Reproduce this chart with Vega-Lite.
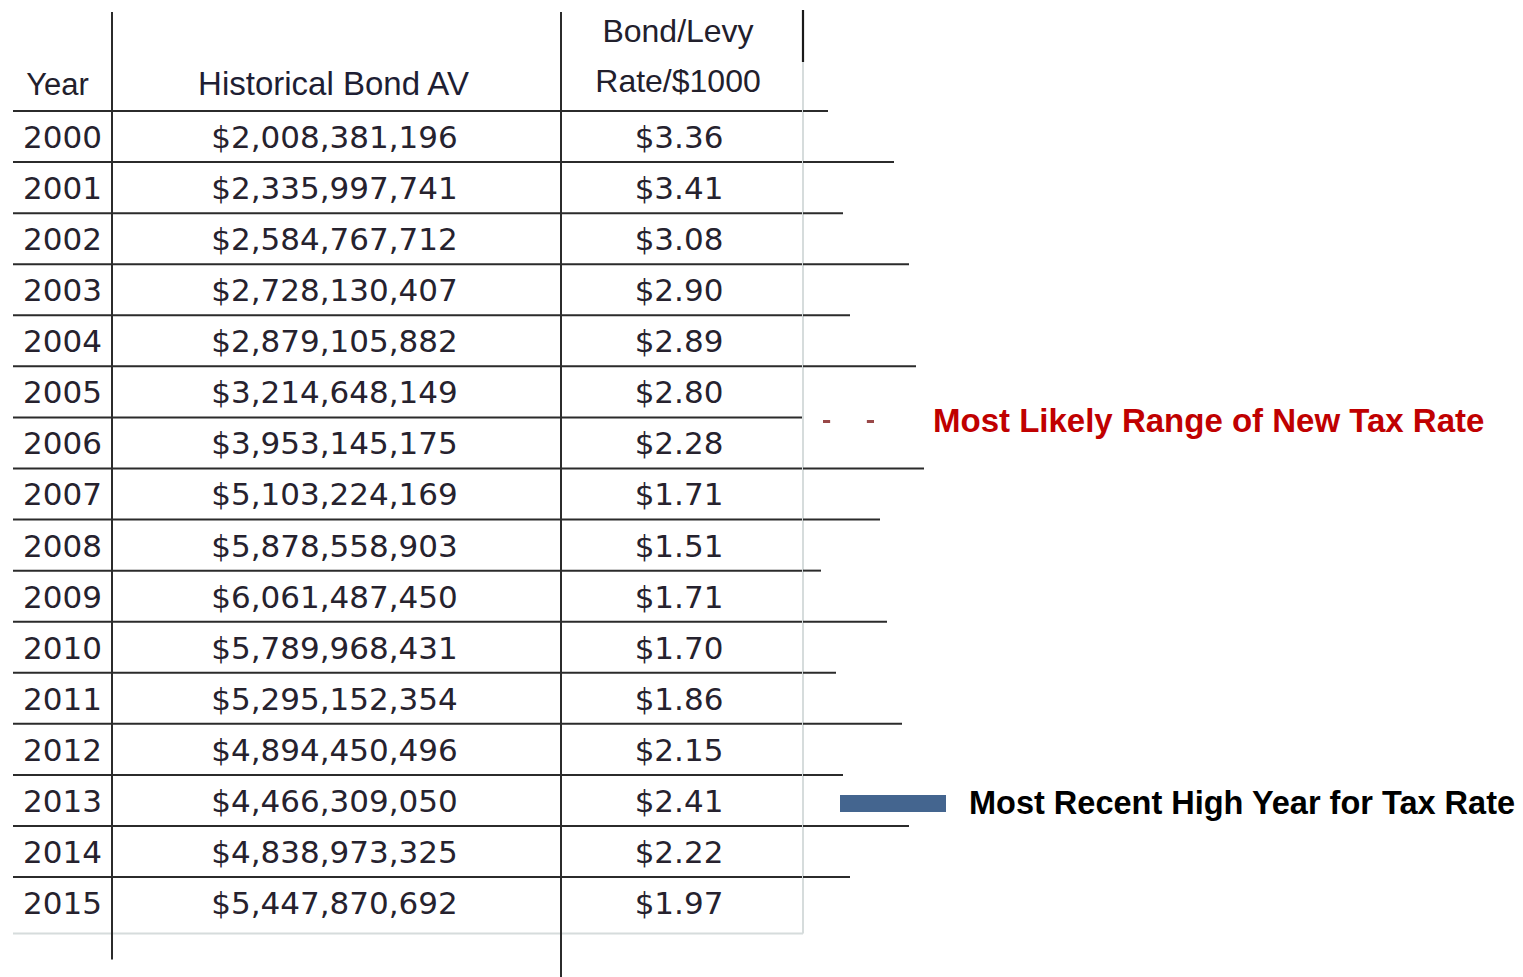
{
  "$schema": "https://vega.github.io/schema/vega-lite/v6.json",
  "padding": {"left": 12, "top": 0, "right": 0, "bottom": 0},
  "spacing": 0,
  "bounds": "flush",
  "config": {"view": {"stroke": null}, "concat": {"spacing": 0}},
  "datasets": {
    "table": [
      {"year": 2000, "av": 2008381196, "rate": 3.36},
      {"year": 2001, "av": 2335997741, "rate": 3.41},
      {"year": 2002, "av": 2584767712, "rate": 3.08},
      {"year": 2003, "av": 2728130407, "rate": 2.90},
      {"year": 2004, "av": 2879105882, "rate": 2.89},
      {"year": 2005, "av": 3214648149, "rate": 2.80},
      {"year": 2006, "av": 3953145175, "rate": 2.28},
      {"year": 2007, "av": 5103224169, "rate": 1.71},
      {"year": 2008, "av": 5878558903, "rate": 1.51},
      {"year": 2009, "av": 6061487450, "rate": 1.71},
      {"year": 2010, "av": 5789968431, "rate": 1.70},
      {"year": 2011, "av": 5295152354, "rate": 1.86},
      {"year": 2012, "av": 4894450496, "rate": 2.15},
      {"year": 2013, "av": 4466309050, "rate": 2.41},
      {"year": 2014, "av": 4838973325, "rate": 2.22},
      {"year": 2015, "av": 5447870692, "rate": 1.97}
    ],
    "columns": [
      {"col": "year", "title": "Year"},
      {"col": "av", "title": "Historical Bond AV"},
      {"col": "rate", "title": ["Bond/Levy", "Rate/$1000"]}
    ],
    "tails": [
      {"year": 2000, "tail": 25},
      {"year": 2001, "tail": 91},
      {"year": 2002, "tail": 40},
      {"year": 2003, "tail": 106},
      {"year": 2004, "tail": 47},
      {"year": 2005, "tail": 113},
      {"year": 2007, "tail": 121},
      {"year": 2008, "tail": 77},
      {"year": 2009, "tail": 18},
      {"year": 2010, "tail": 84},
      {"year": 2011, "tail": 33},
      {"year": 2012, "tail": 99},
      {"year": 2013, "tail": 40},
      {"year": 2014, "tail": 106},
      {"year": 2015, "tail": 47}
    ],
    "legendRange": [{"item": "Most Likely Range of New Tax Rate"}],
    "legendHigh": [{"item": "Most Recent High Year for Tax Rate"}]
  },
  "hconcat": [
    {
      "width": 99,
      "height": 977,
      "layer": [
        {
          "data": {"name": "table"},
          "mark": {"type": "rule", "color": "#2b2b2b", "strokeWidth": 2, "yOffset": -25.5},
          "encoding": {"y": {"field": "year", "type": "quantitative", "axis": null, "scale": {"domain": [1997.327, 2016.458], "reverse": true, "nice": false, "zero": false}}}
        },
        {
          "data": {"name": "table"},
          "transform": [{"filter": "datum.year === 2015"}],
          "mark": {"type": "rule", "color": "#d6dcdc", "strokeWidth": 2, "yOffset": 31},
          "encoding": {"y": {"field": "year", "type": "quantitative"}}
        },
        {
          "data": {"name": "table"},
          "mark": {"type": "text", "font": "DejaVu Sans", "fontSize": 31, "baseline": "alphabetic", "dy": 11.5, "color": "#26222e"},
          "encoding": {
            "y": {"field": "year", "type": "quantitative"},
            "text": {"field": "year", "type": "nominal"}
          }
        },
        {
          "data": {"name": "columns"},
          "transform": [{"filter": "datum.col === 'year'"}],
          "mark": {"type": "text", "font": "Liberation Sans", "fontSize": 31, "baseline": "alphabetic", "dy": 9.5, "dx": -5, "color": "#22202c"},
          "encoding": {
            "y": {"datum": 1999, "type": "quantitative"},
            "text": {"field": "title", "type": "nominal"}
          }
        }
      ]
    },
    {
      "width": 449,
      "height": 977,
      "layer": [
        {
          "data": {"name": "table"},
          "mark": {"type": "rule", "color": "#2b2b2b", "strokeWidth": 2, "yOffset": -25.5},
          "encoding": {"y": {"field": "year", "type": "quantitative", "axis": null, "scale": {"domain": [1997.327, 2016.458], "reverse": true, "nice": false, "zero": false}}}
        },
        {
          "data": {"name": "table"},
          "transform": [{"filter": "datum.year === 2015"}],
          "mark": {"type": "rule", "color": "#d6dcdc", "strokeWidth": 2, "yOffset": 31},
          "encoding": {"y": {"field": "year", "type": "quantitative"}}
        },
        {
          "data": {"name": "table"},
          "transform": [{"aggregate": [{"op": "min", "field": "year", "as": "first"}, {"op": "max", "field": "year", "as": "last"}]}],
          "mark": {"type": "rule", "color": "#2b2b2b", "strokeWidth": 2, "yOffset": -124.5, "y2Offset": 57},
          "encoding": {
            "x": {"value": 0},
            "y": {"field": "first", "type": "quantitative"},
            "y2": {"field": "last"}
          }
        },
        {
          "data": {"name": "table"},
          "mark": {"type": "text", "font": "DejaVu Sans", "fontSize": 31, "baseline": "alphabetic", "dy": 11.5, "dx": -2, "color": "#26222e"},
          "encoding": {
            "y": {"field": "year", "type": "quantitative"},
            "text": {"field": "av", "type": "quantitative", "format": "$,.0f"}
          }
        },
        {
          "data": {"name": "columns"},
          "transform": [{"filter": "datum.col === 'av'"}],
          "mark": {"type": "text", "font": "Liberation Sans", "fontSize": 33, "baseline": "alphabetic", "dy": 9.5, "dx": -3, "color": "#1e1e34"},
          "encoding": {
            "y": {"datum": 1999, "type": "quantitative"},
            "text": {"field": "title", "type": "nominal"}
          }
        }
      ]
    },
    {
      "width": 242,
      "height": 977,
      "layer": [
        {
          "data": {"name": "table"},
          "mark": {"type": "rule", "color": "#2b2b2b", "strokeWidth": 2, "yOffset": -25.5},
          "encoding": {"y": {"field": "year", "type": "quantitative", "axis": null, "scale": {"domain": [1997.327, 2016.458], "reverse": true, "nice": false, "zero": false}}}
        },
        {
          "data": {"name": "table"},
          "transform": [{"filter": "datum.year === 2015"}],
          "mark": {"type": "rule", "color": "#d6dcdc", "strokeWidth": 2, "yOffset": 31},
          "encoding": {"y": {"field": "year", "type": "quantitative"}}
        },
        {
          "data": {"name": "table"},
          "transform": [{"aggregate": [{"op": "min", "field": "year", "as": "first"}, {"op": "max", "field": "year", "as": "last"}]}],
          "mark": {"type": "rule", "color": "#2b2b2b", "strokeWidth": 2, "yOffset": -124.5, "y2Offset": 75},
          "encoding": {
            "x": {"value": 0},
            "y": {"field": "first", "type": "quantitative"},
            "y2": {"field": "last"}
          }
        },
        {
          "data": {"name": "table"},
          "transform": [{"aggregate": [{"op": "min", "field": "year", "as": "first"}, {"op": "max", "field": "year", "as": "last"}]}],
          "mark": {"type": "rule", "color": "#d6dcdc", "strokeWidth": 2, "yOffset": -74.5, "y2Offset": 31},
          "encoding": {
            "x": {"value": "width"},
            "y": {"field": "first", "type": "quantitative"},
            "y2": {"field": "last"}
          }
        },
        {
          "data": {"name": "table"},
          "transform": [{"aggregate": [{"op": "min", "field": "year", "as": "first"}]}],
          "mark": {"type": "rule", "color": "#1a1a1a", "strokeWidth": 2.2, "yOffset": -126.5, "y2Offset": -74.5},
          "encoding": {
            "x": {"value": "width"},
            "y": {"field": "first", "type": "quantitative"},
            "y2": {"field": "first"}
          }
        },
        {
          "data": {"name": "table"},
          "mark": {"type": "text", "font": "DejaVu Sans", "fontSize": 31, "baseline": "alphabetic", "dy": 11.5, "dx": -3, "color": "#26222e"},
          "encoding": {
            "y": {"field": "year", "type": "quantitative"},
            "text": {"field": "rate", "type": "quantitative", "format": "$.2f"}
          }
        },
        {
          "data": {"name": "columns"},
          "transform": [{"filter": "datum.col === 'rate'"}],
          "mark": {"type": "text", "font": "Liberation Sans", "fontSize": 32, "baseline": "alphabetic", "dy": -43.5, "dx": -4, "lineHeight": 50, "color": "#22202c"},
          "encoding": {
            "y": {"datum": 1999, "type": "quantitative"},
            "text": {"field": "title", "type": "nominal"}
          }
        }
      ]
    },
    {
      "width": 721,
      "height": 977,
      "resolve": {"scale": {"color": "independent"}, "legend": {"color": "independent"}},
      "layer": [
        {
          "data": {"name": "tails"},
          "mark": {"type": "rule", "color": "#2b2b2b", "strokeWidth": 2, "yOffset": -25.5},
          "encoding": {
            "x": {"field": "tail", "type": "quantitative", "axis": null, "scale": {"domain": [0, 721], "nice": false, "zero": true}},
            "x2": {"value": 0},
            "y": {"field": "year", "type": "quantitative", "axis": null, "scale": {"domain": [1997.327, 2016.458], "reverse": true, "nice": false, "zero": false}}
          }
        },
        {
          "data": {"name": "legendRange"},
          "mark": {"type": "text", "text": ""},
          "encoding": {
            "color": {
              "field": "item",
              "type": "nominal",
              "scale": {"range": ["#994848"]},
              "legend": {
                "orient": "none",
                "legendX": 20,
                "legendY": 396,
                "title": null,
                "padding": 0,
                "symbolType": "M-1,-0.06H-0.72V0.06H-1ZM0.72,-0.06H1V0.06H0.72Z",
                "symbolSize": 2601,
                "symbolStrokeWidth": 0,
                "symbolOpacity": 1,
                "labelFont": "Liberation Sans",
                "labelFontSize": 33,
                "labelFontWeight": "bold",
                "labelColor": "#c00000",
                "labelOffset": 59,
                "labelLimit": 0
              }
            }
          }
        },
        {
          "data": {"name": "legendHigh"},
          "mark": {"type": "text", "text": ""},
          "encoding": {
            "color": {
              "field": "item",
              "type": "nominal",
              "scale": {"range": ["#44658f"]},
              "legend": {
                "orient": "none",
                "legendX": 37,
                "legendY": 750.5,
                "title": null,
                "padding": 0,
                "symbolType": "M-1,-0.16H1V0.16H-1Z",
                "symbolSize": 11236,
                "symbolStrokeWidth": 0,
                "symbolOpacity": 1,
                "labelFont": "Liberation Sans",
                "labelFontSize": 32.5,
                "labelFontWeight": "bold",
                "labelColor": "#000000",
                "labelOffset": 23,
                "labelLimit": 0
              }
            }
          }
        }
      ]
    }
  ]
}
